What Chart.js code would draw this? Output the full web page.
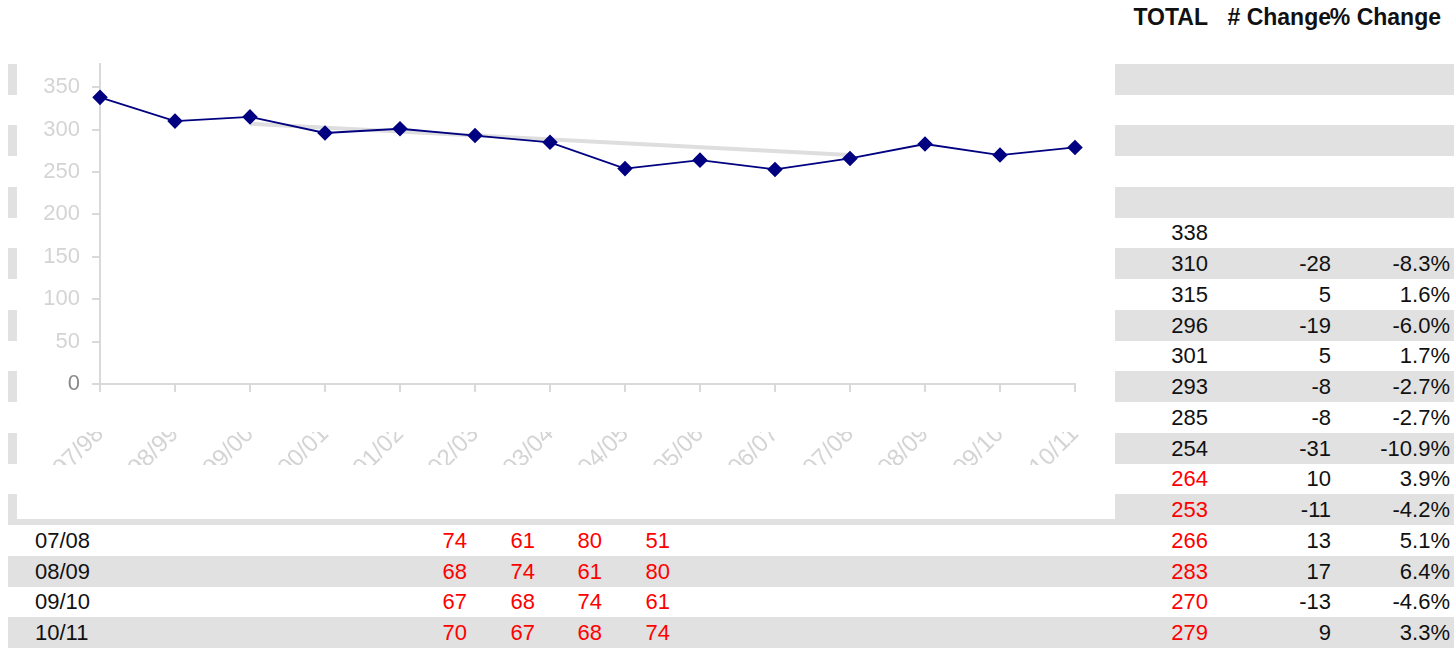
<!DOCTYPE html>
<html>
<head>
<meta charset="utf-8">
<script src="https://cdn.jsdelivr.net/npm/chart.js@4"></script>
<style>
  body { margin: 0; background: #fff; font-family: "Liberation Sans", Arial, sans-serif; }
  #sheet { position: relative; width: 1454px; height: 650px; overflow: hidden; }
  .stripe { position: absolute; left: 8px; right: 0; height: 31px; background: #e1e1e1; }
  .cell { position: absolute; font-size: 22px; line-height: 31px; white-space: nowrap; color: #111; }
  .num { text-align: right; }
  .red { color: #ff0000; }
  .head { font-weight: bold; font-size: 23px; }
  #chartBox { position: absolute; left: 17px; top: 56px; width: 1098px; height: 463px; background: #fff; }
</style>
</head>
<body>
<div id="sheet">
  <div id="chartBox"><canvas id="enrolChart"></canvas></div>
</div>
<script>
/* ── Data ── */
const seasons = ['97/98', '98/99', '99/00', '00/01', '01/02', '02/03', '03/04',
                 '04/05', '05/06', '06/07', '07/08', '08/09', '09/10', '10/11'];
const totals = [338, 310, 315, 296, 301, 293, 285, 254, 264, 253, 266, 283, 270, 279];
const changes = [null, -28, 5, -19, 5, -8, -8, -31, 10, -11, 13, 17, -13, 9];
const pctChanges = ['', '-8.3%', '1.6%', '-6.0%', '1.7%', '-2.7%', '-2.7%',
                    '-10.9%', '3.9%', '-4.2%', '5.1%', '6.4%', '-4.6%', '3.3%'];
const firstProjected = 8;   // totals from 05/06 on are projections (red)

const gradeLabels = ['07/08', '08/09', '09/10', '10/11'];
const gradeCounts = [
  [74, 61, 80, 51],
  [68, 74, 61, 80],
  [67, 68, 74, 61],
  [70, 67, 68, 74]
];

// trend line ends: [season index, value]
const trendEnds = [[2, 307], [10, 270]];

/* ── Sheet (table behind the chart) ── */
const sheet = document.getElementById('sheet');
const box = document.getElementById('chartBox');
const ROW_H = 30.75, ROW0 = 2, FIRST_ROW = 7;
const rowTop = r => ROW0 + r * ROW_H;

function cell(text, x, r, cls, alignRight) {
  const d = document.createElement('div');
  d.className = 'cell ' + (cls || '');
  d.textContent = text;
  d.style.top = rowTop(r) + 'px';
  if (alignRight) { d.style.right = (1454 - x) + 'px'; d.classList.add('num'); }
  else d.style.left = x + 'px';
  sheet.insertBefore(d, box);
}

for (let r = 2; r <= FIRST_ROW + seasons.length - 1; r += 2) {
  const s = document.createElement('div');
  s.className = 'stripe';
  s.style.top = rowTop(r) + 'px';
  sheet.insertBefore(s, box);
}

cell('TOTAL', 1208, 0, 'head', true);
cell('# Change', 1331, 0, 'head', true);
cell('% Change', 1441, 0, 'head', true);

totals.forEach((t, i) => {
  const r = FIRST_ROW + i;
  cell(String(t), 1208, r, i >= firstProjected ? 'red' : '', true);
  if (changes[i] !== null) cell(String(changes[i]), 1331, r, '', true);
  if (pctChanges[i]) cell(pctChanges[i], 1450, r, '', true);
});

const gradeCols = [467, 535, 602, 670];
gradeLabels.forEach((lab, k) => {
  const r = FIRST_ROW + seasons.indexOf(lab);
  cell(lab, 35, r, '');
  gradeCounts[k].forEach((v, c) => cell(String(v), gradeCols[c], r, 'red', true));
});

/* ── Chart ── */
const axisGrey = '#d9d9d9';
const noPad = s => { s.paddingTop = 0; s.paddingBottom = 0; s.paddingLeft = 0; s.paddingRight = 0; };

// the category labels only show through a narrow band under the axis
const labelBand = {
  id: 'labelBand',
  beforeDraw(chart) {
    const { ctx, width } = chart;
    ctx.save();
    ctx.beginPath();
    ctx.rect(0, 0, width, 340);
    ctx.rect(0, 376, width, 33);
    ctx.clip();
  },
  beforeDatasetsDraw(chart) {
    chart.ctx.restore();
  }
};

new Chart(document.getElementById('enrolChart'), {
  type: 'line',
  data: {
    labels: seasons,
    datasets: [{
      label: 'TOTAL',
      data: totals,
      borderColor: '#000080',
      backgroundColor: '#000080',
      borderWidth: 1.8,
      pointStyle: 'rectRot',
      pointRadius: 6.5,
      pointHoverRadius: 6.5,
      tension: 0,
      clip: false,
      order: 1
    }, {
      label: 'Trend',
      data: trendEnds.map(([i, v]) => ({ x: seasons[i], y: v })),
      borderColor: '#dedede',
      borderWidth: 4,
      pointRadius: 0,
      order: 2
    }]
  },
  options: {
    responsive: true,
    maintainAspectRatio: false,
    animation: false,
    layout: { padding: { top: 7, right: 40, left: 0, bottom: 0 } },
    plugins: { legend: { display: false }, tooltip: { enabled: false } },
    scales: {
      x: {
        offset: false,
        grid: { drawOnChartArea: false, tickLength: 8, color: axisGrey, lineWidth: 2 },
        border: { color: axisGrey, width: 2 },
        ticks: {
          minRotation: 45, maxRotation: 45, autoSkip: false, padding: 28,
          color: '#d4d4d4',
          font: { family: 'Liberation Sans', size: 24 }
        },
        afterFit: s => { s.height = 135; noPad(s); }
      },
      y: {
        min: 0, max: 377,
        grid: { drawOnChartArea: false, tickLength: 8, color: axisGrey, lineWidth: 2 },
        border: { color: axisGrey, width: 2 },
        ticks: {
          stepSize: 50, includeBounds: false, padding: 12,
          color: c => c.tick.value === 0 ? '#8a8a8a' : '#d4d4d4',
          font: { family: 'Liberation Sans', size: 22 }
        },
        afterFit: s => { s.width = 83; noPad(s); }
      }
    }
  },
  plugins: [labelBand]
});
</script>
</body>
</html>
